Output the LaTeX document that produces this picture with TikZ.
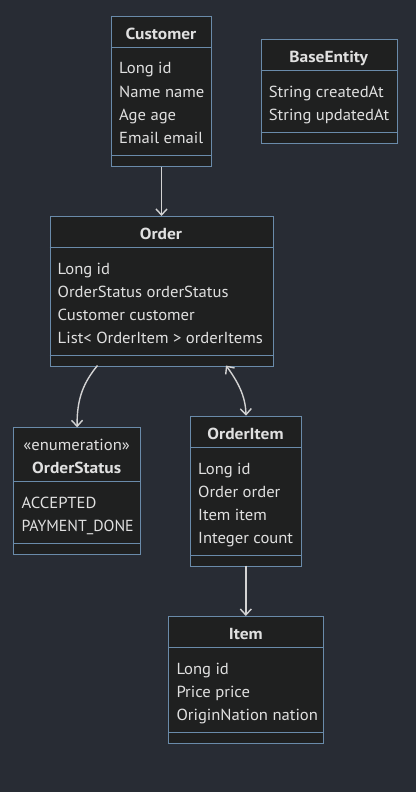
\documentclass[tikz,border=0pt]{standalone}
\usepackage{fontspec}
\setmainfont{PT Sans}
\newfontfamily\bodyfont{PT Sans}[FakeStretch=1.04]
\newfontfamily\narrowfont{PT Sans}[FakeStretch=0.99]
\newfontfamily\titlefont{PT Sans}[FakeStretch=1.09]
\usetikzlibrary{arrows.meta}
\definecolor{bg}{HTML}{282C34}
\definecolor{boxfill}{HTML}{1F2020}
\definecolor{border}{HTML}{6A8BAA}
\definecolor{txt}{HTML}{E0E0E0}
\definecolor{linec}{HTML}{D3D3D3}
\tikzset{
  box/.style={draw=border, fill=boxfill, line width=1pt, rectangle, inner sep=0pt, anchor=north west},
  ttl/.style={text=txt, font=\fontsize{16}{19}\titlefont\bfseries, anchor=base, inner sep=0pt},
  stereo/.style={text=txt, font=\fontsize{16}{19}\bodyfont, anchor=base, inner sep=0pt},
  attr/.style={text=txt, font=\fontsize{16}{19}\bodyfont, anchor=base west, inner sep=0pt},
  div/.style={draw=border, line width=1pt},
  conn/.style={draw=linec, line width=1.4pt},
  tip/.style={-{Straight Barb[length=6pt,width=11pt,line width=1.4pt]}},
  tips/.style={{Straight Barb[length=6pt,width=11pt,line width=1.4pt]}-{Straight Barb[length=6pt,width=11pt,line width=1.4pt]}}
}
\begin{document}
\begin{tikzpicture}[x=1pt,y=-1pt]
\useasboundingbox (0,0) rectangle (416,792);
\fill[bg] (0,0) rectangle (416,792);

% Customer
\node[box, minimum width=100pt, minimum height=149.5pt] (customer) at (111,16) {};
\draw[div] (111,47.5) -- (211,47.5);
\draw[div] (111,155) -- (211,155);
\node[ttl] (customerT) at (161,39.3) {Customer};
\node[attr] (customerA1) at (119,74) {Long id};
\node[attr] (customerA2) at (119,97) {Name name};
\node[attr] (customerA3) at (119,120) {Age age};
\node[attr] (customerA4) at (119,143) {Email email};

% BaseEntity
\node[box, minimum width=136pt, minimum height=103.3pt] (base) at (260.7,39.3) {};
\draw[div] (260.7,70.8) -- (396.7,70.8);
\draw[div] (260.7,132) -- (396.7,132);
\node[ttl] (baseT) at (328.7,62.8) {BaseEntity};
\node[attr] (baseA1) at (268.7,97.3) {String createdAt};
\node[attr] (baseA2) at (268.7,120.3) {String updatedAt};

% Order
\node[box, minimum width=223pt, minimum height=149.5pt] (order) at (49.5,216) {};
\draw[div] (49.5,247.5) -- (272.5,247.5);
\draw[div] (49.5,355) -- (272.5,355);
\node[ttl] (orderT) at (161,239.5) {Order};
\node[attr] (orderA1) at (57.5,274) {Long id};
\node[attr] (orderA2) at (57.5,297) {OrderStatus orderStatus};
\node[attr] (orderA3) at (57.5,320) {Customer customer};
\node[attr] (orderA4) at (57.5,343) {List< OrderItem > orderItems};

% OrderStatus
\node[box, minimum width=126.7pt, minimum height=127pt] (status) at (13.3,427.3) {};
\draw[div] (13.3,481.7) -- (140,481.7);
\draw[div] (13.3,543.3) -- (140,543.3);
\node[stereo] (statusS) at (76.7,450) {«enumeration»};
\node[ttl] (statusT) at (76.7,473.3) {OrderStatus};
\node[attr] (statusA1) at (21.3,508.2) {ACCEPTED};
\node[attr, font=\fontsize{16}{19}\narrowfont] (statusA2) at (21.3,531.2) {PAYMENT\_DONE};

% OrderItem
\node[box, minimum width=111pt, minimum height=150pt] (orderitem) at (190,415.7) {};
\draw[div] (190,447.5) -- (301,447.5);
\draw[div] (190,555) -- (301,555);
\node[ttl] (orderitemT) at (245.5,439.2) {OrderItem};
\node[attr] (orderitemA1) at (198,474) {Long id};
\node[attr] (orderitemA2) at (198,497) {Order order};
\node[attr] (orderitemA3) at (198,520) {Item item};
\node[attr] (orderitemA4) at (198,543) {Integer count};

% Item
\node[box, minimum width=155pt, minimum height=126.7pt] (item) at (168.3,616) {};
\draw[div] (168.3,647.5) -- (323.3,647.5);
\draw[div] (168.3,732.3) -- (323.3,732.3);
\node[ttl] (itemT) at (245.8,639.5) {Item};
\node[attr] (itemA1) at (176.3,674) {Long id};
\node[attr] (itemA2) at (176.3,697) {Price price};
\node[attr] (itemA3) at (176.3,720) {OriginNation nation};

% connectors
\coordinate (orderOut1) at (97.5,365.5);
\coordinate (orderOut2) at (226,365.5);
\coordinate (itemIn) at (245.8,616);
\coordinate (orderitemOut) at (245.8,565.7);

\draw[conn,tip] (customer.south) -- (order.north);
\draw[conn,tip] (orderOut1) .. controls (84,382) and (76.7,398) .. (status.north);
\draw[conn,tips] (orderOut2) .. controls (238,382) and (245.5,396) .. (orderitem.north);
\draw[conn,tip] (orderitemOut) -- (itemIn);
\end{tikzpicture}
\end{document}
